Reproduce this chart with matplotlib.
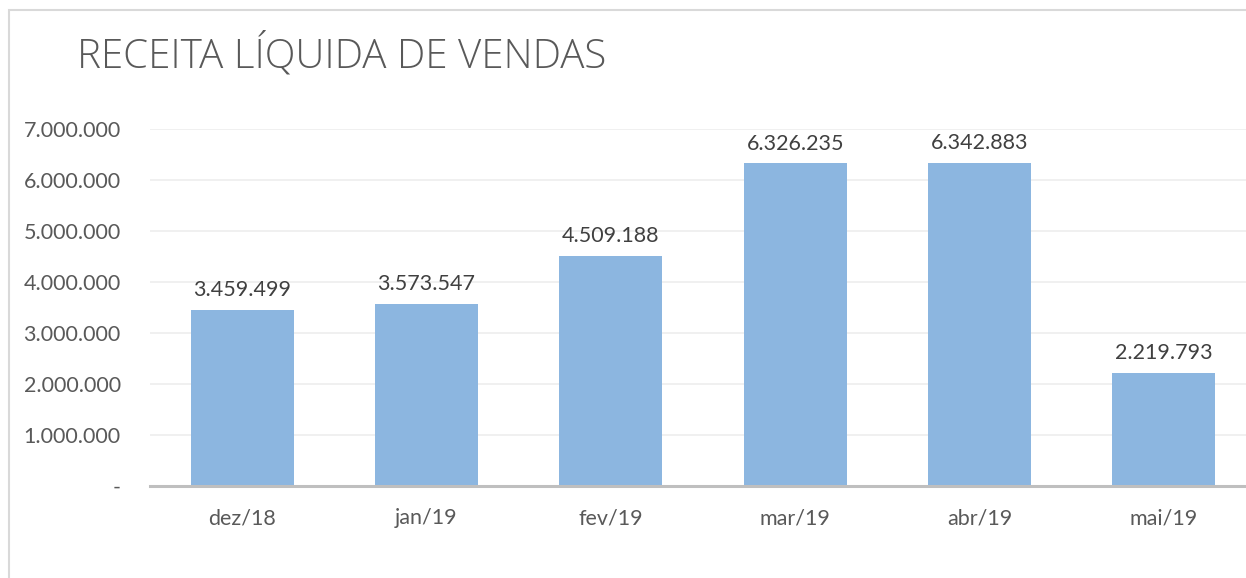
import matplotlib.pyplot as plt
from matplotlib.patches import Rectangle
from matplotlib.ticker import FuncFormatter

months = ["dez/18", "jan/19", "fev/19", "mar/19", "abr/19", "mai/19"]
receita = [3459499, 3573547, 4509188, 6326235, 6342883, 2219793]
yticks = [0, 1000000, 2000000, 3000000, 4000000, 5000000, 6000000, 7000000]

plt.rcParams['font.family'] = ['Lato', 'DejaVu Sans']
txt = '#595959'


def fmt(v, pos=None):
    if v == 0:
        return '-'
    return f"{int(round(v)):,}".replace(',', '.')


fig = plt.figure(figsize=(12.46, 5.78), dpi=100)
ax = fig.add_axes([150 / 1246, 92 / 578, 1106 / 1246, 357 / 578])

x = range(len(months))
ax.bar(x, receita, width=0.56, color='#8CB6E0', zorder=2)
for xi, v in zip(x, receita):
    ax.annotate(fmt(v), (xi, v), xytext=(0, 7), textcoords='offset points',
                ha='center', va='bottom', fontsize=15.5, color='#404040')

ax.set_xlim(-0.5, 5.5)
ax.set_ylim(0, 7000000)
ax.set_yticks(yticks)
ax.yaxis.set_major_formatter(FuncFormatter(fmt))
ax.set_xticks(list(x))
ax.set_xticklabels(months)
ax.grid(axis='y', color='#EEEEEE', linewidth=1.2, zorder=0)
ax.tick_params(axis='both', length=0, labelsize=15.5, labelcolor=txt)
ax.tick_params(axis='y', pad=21)
ax.tick_params(axis='x', pad=16)
for s in ['top', 'right', 'left']:
    ax.spines[s].set_visible(False)
ax.spines['bottom'].set_color('#BFBFBF')
ax.spines['bottom'].set_linewidth(2.2)
ax.spines['bottom'].set_zorder(3)

fig.text(77 / 1246, 1 - 55 / 578, "RECEITA LÍQUIDA DE VENDAS", fontsize=29,
         family=['Open Sans', 'DejaVu Sans'], fontweight='light',
         color=txt, ha='left', va='center')

fig.patches.append(Rectangle((9 / 1246, -0.1), 2, 1 - 10 / 578 + 0.1,
                             transform=fig.transFigure, fill=False,
                             edgecolor='#D9D9D9', linewidth=1.5))

fig.savefig('out.png', dpi=100)
